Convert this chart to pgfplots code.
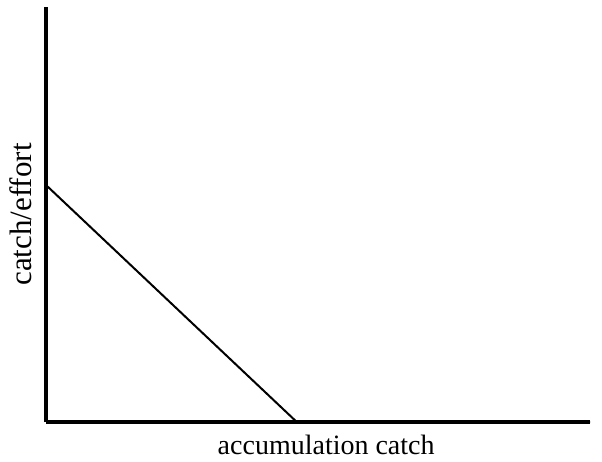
\documentclass[border=0pt]{standalone}
\usepackage{pgfplots}
\pgfplotsset{compat=1.18}
\usepackage{fontspec}
\setmainfont{Liberation Serif}
\begin{document}
\begin{tikzpicture}[x=1pt,y=1pt]
\useasboundingbox (-46,-39) rectangle (556,422);
\begin{axis}[
  at={(0,0)}, anchor=south west,
  scale only axis, width=544pt, height=415pt,
  xmin=0, xmax=10, ymin=0, ymax=10,
  axis lines=left,
  axis line style={line width=3.2pt, -},
  ticks=none,
  clip=false,
]
\addplot[black, line width=2pt] coordinates {(0,5.71) (4.61,0) (10,0)};
\node[anchor=base, font=\fontsize{28}{32}\selectfont] at ([yshift=-32pt]rel axis cs:0.515,0) {accumulation catch};
\node[anchor=base, rotate=90, font=\fontsize{31}{35}\selectfont] at ([xshift=-14pt]rel axis cs:0,0.5) {catch/effort};
\end{axis}
\end{tikzpicture}
\end{document}
